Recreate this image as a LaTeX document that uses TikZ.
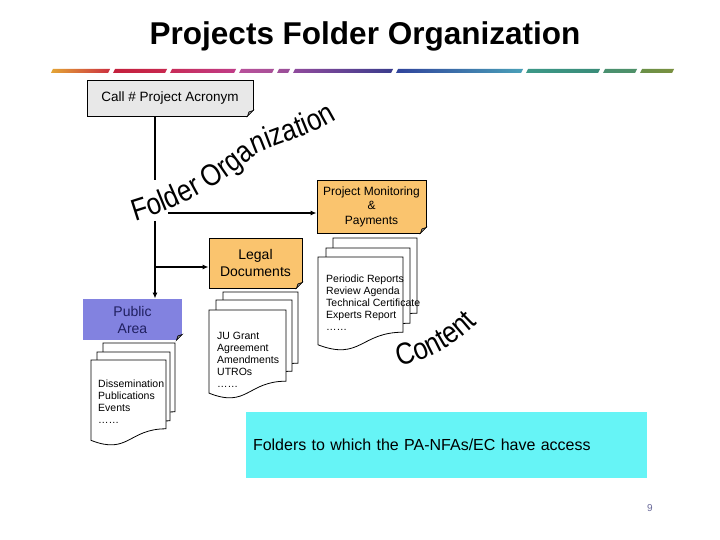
\documentclass[tikz,border=0pt]{standalone}
\usepackage{fontspec}
\setmainfont{Liberation Sans}
\newfontfamily\wordart[FakeStretch=0.85]{Liberation Sans}
\usetikzlibrary{arrows.meta,decorations.text,calc}
\definecolor{orangebox}{HTML}{FAC46E}
\definecolor{pubblue}{HTML}{8282E0}
\definecolor{pubtext}{HTML}{202060}
\definecolor{callgray}{HTML}{E8E8E8}
\definecolor{cyanbox}{HTML}{66F4F6}
\definecolor{pagenum}{HTML}{6A6A9A}
\definecolor{ca}{HTML}{E3A535}\definecolor{cb}{HTML}{CC3040}
\definecolor{cc}{HTML}{C4203C}\definecolor{cd}{HTML}{C82850}
\definecolor{ce}{HTML}{C82C58}\definecolor{cf}{HTML}{C03C88}
\definecolor{cg}{HTML}{B8509A}\definecolor{ch}{HTML}{A85098}
\definecolor{ci}{HTML}{A05098}\definecolor{cj}{HTML}{9A4E9A}
\definecolor{ck}{HTML}{904A9C}\definecolor{cl}{HTML}{3A3C8C}
\definecolor{cm}{HTML}{30449C}\definecolor{cn}{HTML}{4AA0B8}
\definecolor{co}{HTML}{3C9888}\definecolor{cp}{HTML}{3A8C78}
\definecolor{cq}{HTML}{4A9070}\definecolor{cr}{HTML}{4E9068}
\definecolor{cs}{HTML}{6A9048}\definecolor{ct}{HTML}{7A9040}
\newcommand\barseg[4]{\shade[left color=#3, right color=#4] (#1,73) -- ({#1+2},69) -- (#2,69) -- ({#2-2},73) -- cycle;}
\newcommand\docsheet[4]{\filldraw[sheet] (#1,#2) -- ({#1+#3},#2) -- ({#1+#3},{#2+0.8*#4}) .. controls ({#1+0.5*#3},{#2+0.8*#4}) and ({#1+0.5*#3},{#2+1.107*#4}) .. (#1,{#2+0.934*#4}) -- cycle;}
\newcommand\dogear[2]{%
  \fill[#2] ([xshift=-6.5pt,yshift=-1pt]#1.south east) -- ([xshift=1pt,yshift=-1pt]#1.south east) -- ([xshift=1pt,yshift=6.5pt]#1.south east) -- cycle;
  \filldraw[fill=black!45, draw=black, line width=0.6pt] ([xshift=-6pt]#1.south east) -- ([yshift=6pt]#1.south east) -- ([xshift=-4.5pt,yshift=4.5pt]#1.south east) -- cycle;}
\begin{document}
\begin{tikzpicture}[x=1pt,y=-1pt,
  folderbox/.style={draw=black, line width=0.8pt, inner sep=0pt, align=center},
  sheet/.style={fill=white, draw=black, line width=0.8pt},
  sheettext/.style={anchor=north west, inner sep=0pt, align=left, font=\fontsize{10.5}{12}\selectfont},
  conn/.style={line width=1.3pt},
  arr/.style={line width=1.3pt, -{Latex[length=6pt,width=5pt]}}]
\useasboundingbox (0,0) rectangle (720,540);
\fill[white] (0,0) rectangle (720,540);

% title
\node[anchor=base, font=\bfseries\fontsize{31.5}{36}\selectfont] (title) at (365,45) {Projects Folder Organization};

% colour bar
\barseg{51}{110}{ca}{cb}
\barseg{113}{167}{cc}{cd}
\barseg{170}{236}{ce}{cf}
\barseg{239}{274}{cg}{ch}
\barseg{277}{290}{ci}{cj}
\barseg{293}{393}{ck}{cl}
\barseg{396}{523}{cm}{cn}
\barseg{526}{600}{co}{cp}
\barseg{603}{637}{cq}{cr}
\barseg{640}{674}{cs}{ct}

% boxes
\node[folderbox, fill=callgray, minimum width=166pt, minimum height=36pt, font=\fontsize{13.5}{16}\selectfont] (call) at (170,98) {Call \# Project Acronym};
\dogear{call}{white}
\node[folderbox, fill=orangebox, minimum width=109pt, minimum height=53pt, font=\fontsize{12}{14.5}\selectfont] (monitor) at (371.5,206.5) {Project Monitoring\\\&\\Payments};
\dogear{monitor}{white}
\node[folderbox, fill=orangebox, minimum width=93pt, minimum height=50pt, font=\fontsize{14}{17}\selectfont] (legal) at (255.5,263) {Legal\\Documents};
\dogear{legal}{white}
\node[folderbox, draw=none, fill=pubblue, text=pubtext, minimum width=99pt, minimum height=41pt, font=\fontsize{14}{17}\selectfont] (public) at (132.5,319.5) {Public\\Area};
\dogear{public}{white}

% document stacks
\docsheet{333}{238}{84}{94}
\docsheet{326}{248}{84}{94}
\docsheet{318}{257}{85}{94}
\node[sheettext] (montxt) at (326,274.5) {Periodic Reports\\Review Agenda\\Technical Certificate\\Experts Report\\……};

\docsheet{223}{292}{75}{89}
\docsheet{216}{300}{76}{89}
\docsheet{209}{310}{77}{89}
\node[sheettext] (legtxt) at (217,331.5) {JU Grant\\Agreement\\Amendments\\UTROs\\……};

\docsheet{103}{343}{72}{86}
\docsheet{97}{352}{73}{86}
\docsheet{91}{360}{75}{86}
\node[sheettext] (pubtxt) at (98,379.5) {Dissemination\\Publications\\Events\\……};

% connectors
\coordinate (gtop) at (155,180);
\coordinate (gbot) at (155,221);
\coordinate (jleg) at (155,267);
\coordinate (hst) at (168,213);
\draw[conn] (call.south -| gtop) -- (gtop);
\draw[arr] (gbot) -- (gbot |- public.north);
\draw[arr] (jleg) -- (jleg -| legal.west);
\draw[arr] (hst) -- (hst -| monitor.west);

% curved texts
\path[decorate, decoration={text along path, text align=center,
  text={|\wordart\fontsize{30.5}{34}\selectfont|Folder Organization}}]
  (136,221) .. controls (190,205) and (230,178) .. (260,152) .. controls (290,140) and (315,133) .. (336,120);
\path[decorate, decoration={text along path, text align=center,
  text={|\wordart\fontsize{30.5}{34}\selectfont|Content}}]
  (390,369) .. controls (420,362) and (455,350) .. (484,316);

% access box
\node[draw=none, fill=cyanbox, minimum width=401pt, minimum height=66pt, text width=387pt, inner xsep=7pt, align=left, font=\fontsize{16}{19}\selectfont] (access) at (446.5,445) {Folders to which the PA-NFAs/EC have access};

% page number
\node[text=pagenum, font=\fontsize{10}{12}\selectfont] (pg) at (650,508) {9};
\end{tikzpicture}
\end{document}
